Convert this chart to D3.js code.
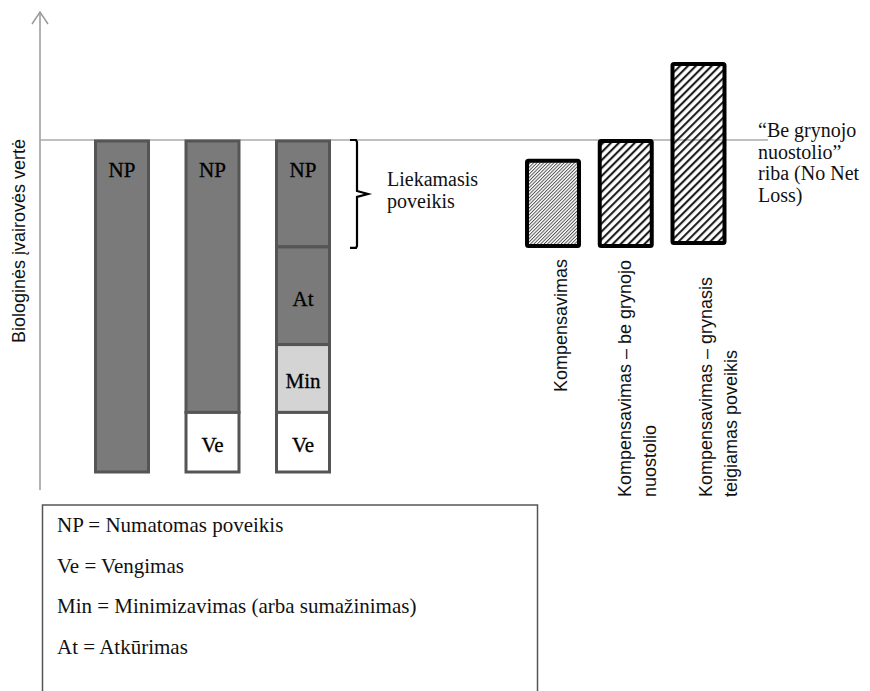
<!DOCTYPE html>
<html>
<head>
<meta charset="utf-8">
<script src="https://cdn.jsdelivr.net/npm/d3@7"></script>
<style>
  body { margin: 0; background: #fff; }
  .serif { font-family: "Liberation Serif", "Times New Roman", serif; }
  .sans { font-family: "Liberation Sans", Arial, sans-serif; }
</style>
</head>
<body>
<div id="chart"></div>
<script>
// stacked impact bars (values below the no-net-loss line, measured from the top down)
const impactBars = ['A', 'B', 'C'];
const segNames = ['NP', 'At', 'Min', 'Ve'];
const npValues = [100, 82, 32];
const atValues = [0, 0, 29.5];
const minValues = [0, 0, 20.5];
const veValues = [0, 18, 18];

// compensation bars
const compBars = ['Kompensavimas', 'Kompensavimas – be grynojo nuostolio', 'Kompensavimas – grynasis teigiamas poveikis'];
const compTop = [-6, 0, 23.3];
const compBottom = [-31.7, -31.7, -30.8];
const compLabels = [['Kompensavimas'], ['Kompensavimas – be grynojo', 'nuostolio'], ['Kompensavimas – grynasis', 'teigiamas poveikis']];

const legendLines = ['NP = Numatomas poveikis', 'Ve = Vengimas', 'Min = Minimizavimas (arba sumažinimas)', 'At = Atkūrimas'];
const yLabel = 'Biologinės įvairovės vertė';
const residualLabel = ['Liekamasis', 'poveikis'];
const nnlLabel = ['“Be grynojo', 'nuostolio”', 'riba (No Net', 'Loss)'];

var width = 870, height = 691;

var svg = d3.select('#chart').append('svg')
  .attr('width', width)
  .attr('height', height);

var defs = svg.append('defs');
defs.append('pattern')
  .attr('id', 'hatchFine')
  .attr('width', 2.4).attr('height', 10)
  .attr('patternUnits', 'userSpaceOnUse')
  .attr('patternTransform', 'rotate(45)')
  .append('line')
  .attr('x1', 0.5).attr('y1', 0).attr('x2', 0.5).attr('y2', 10)
  .attr('stroke', '#444').attr('stroke-width', 0.9);
defs.append('pattern')
  .attr('id', 'hatchBold')
  .attr('width', 5.6).attr('height', 10)
  .attr('patternUnits', 'userSpaceOnUse')
  .attr('patternTransform', 'rotate(45)')
  .append('line')
  .attr('x1', 1.1).attr('y1', 0).attr('x2', 1.1).attr('y2', 10)
  .attr('stroke', '#111').attr('stroke-width', 2);

var y = d3.scaleLinear()
  .domain([-100, 0])
  .range([472, 141]);

var xLeft = d3.scaleBand()
  .domain(impactBars)
  .range([95.5, 329.5])
  .paddingInner(0.4144)
  .paddingOuter(0);

var xRight = d3.scaleBand()
  .domain(compBars)
  .range([527, 724.5])
  .paddingInner(0.2852)
  .paddingOuter(0);

// y axis with arrow
svg.append('line')
  .attr('x1', 40).attr('x2', 40)
  .attr('y1', 12).attr('y2', 490)
  .attr('stroke', '#999').attr('stroke-width', 1.5);
svg.append('path')
  .attr('d', 'M32,24 L40,12 L48,24')
  .attr('fill', 'none')
  .attr('stroke', '#999').attr('stroke-width', 1.5);

// no net loss line
svg.append('line')
  .attr('x1', 40).attr('x2', 768)
  .attr('y1', y(0) - 1).attr('y2', y(0) - 1)
  .attr('stroke', '#aaa').attr('stroke-width', 1.3);

svg.append('text')
  .attr('class', 'sans')
  .attr('transform', 'translate(25,241) rotate(-90)')
  .attr('text-anchor', 'middle')
  .style('font-size', '18px')
  .attr('fill', '#111')
  .text(yLabel);

// build stacked segments
var segData = [];
impactBars.forEach(function (b, i) {
  var vals = [npValues[i], atValues[i], minValues[i], veValues[i]];
  var acc = 0;
  segNames.forEach(function (s, j) {
    if (vals[j] > 0) {
      segData.push({ bar: b, seg: s, from: -acc, to: -(acc + vals[j]) });
      acc += vals[j];
    }
  });
});

var segFill = { NP: '#7a7a7a', At: '#7a7a7a', Min: '#d4d4d4', Ve: '#ffffff' };

svg.selectAll('.seg')
  .data(segData)
  .enter().append('rect')
  .attr('class', 'seg')
  .attr('x', function (d) { return xLeft(d.bar); })
  .attr('width', xLeft.bandwidth())
  .attr('y', function (d) { return y(d.from); })
  .attr('height', function (d) { return y(d.to) - y(d.from); })
  .attr('fill', function (d) { return segFill[d.seg]; })
  .attr('stroke', '#555')
  .attr('stroke-width', 3);

svg.selectAll('.segLabel')
  .data(segData)
  .enter().append('text')
  .attr('class', 'serif')
  .attr('x', function (d) { return xLeft(d.bar) + xLeft.bandwidth() / 2; })
  .attr('y', function (d) {
    if (d.seg === 'NP') return y(d.from) + 36;
    return (y(d.from) + y(d.to)) / 2 + 10;
  })
  .attr('text-anchor', 'middle')
  .style('font-size', '21px')
  .attr('fill', '#000')
  .style('stroke', '#000').style('stroke-width', 0.3)
  .text(function (d) { return d.seg; });

// residual impact bracket
var bTop = y(0) - 1, bBot = y(-32) + 1, bMid = (bTop + bBot) / 2;
svg.append('path')
  .attr('d', 'M350,' + bTop + ' L356,' + bTop + ' L357,' + (bTop + 2) + ' L357,' + (bMid - 3) +
    ' L368,' + bMid + ' L357,' + (bMid + 3) + ' L357,' + (bBot - 2) + ' L356,' + bBot + ' L350,' + bBot)
  .attr('fill', 'none')
  .attr('stroke', '#000').attr('stroke-width', 2.2);

svg.append('g').selectAll('text')
  .data(residualLabel)
  .enter().append('text')
  .attr('class', 'serif')
  .attr('x', 387)
  .attr('y', function (d, i) { return 186 + i * 22; })
  .style('font-size', '20px')
  .attr('fill', '#111')
  .text(function (d) { return d; });

// compensation bars
svg.selectAll('.comp')
  .data(compBars)
  .enter().append('rect')
  .attr('class', 'comp')
  .attr('x', function (d) { return xRight(d); })
  .attr('width', xRight.bandwidth())
  .attr('y', function (d, i) { return y(compTop[i]); })
  .attr('height', function (d, i) { return y(compBottom[i]) - y(compTop[i]); })
  .attr('rx', 1.5)
  .attr('fill', function (d, i) { return i === 0 ? 'url(#hatchFine)' : 'url(#hatchBold)'; })
  .attr('stroke', '#000')
  .attr('stroke-width', 4);

// rotated compensation labels
var labelDx = [14, 5, 13.5];
var labelAnchor = ['end', 'start', 'start'];
var labelY = [259, 497, 497];
compBars.forEach(function (c, i) {
  var cx = xRight(c) + xRight.bandwidth() / 2 + labelDx[i];
  var g = svg.append('g');
  g.selectAll('text')
    .data(compLabels[i])
    .enter().append('text')
    .attr('class', 'sans')
    .attr('transform', function (d, j) { return 'translate(' + (cx + j * 25) + ',' + labelY[i] + ') rotate(-90)'; })
    .attr('text-anchor', labelAnchor[i])
    .style('font-size', '18px')
    .attr('fill', '#111')
    .text(function (d) { return d; });
});

// no net loss label
svg.append('g').selectAll('text')
  .data(nnlLabel)
  .enter().append('text')
  .attr('class', 'serif')
  .attr('x', 758)
  .attr('y', function (d, i) { return 137 + i * 21.5; })
  .style('font-size', '20px')
  .attr('fill', '#111')
  .text(function (d) { return d; });

// legend box
svg.append('rect')
  .attr('x', 42.5).attr('y', 505)
  .attr('width', 495).attr('height', 200)
  .attr('fill', 'none')
  .attr('stroke', '#555').attr('stroke-width', 1.5);

svg.append('g').selectAll('text')
  .data(legendLines)
  .enter().append('text')
  .attr('class', 'serif')
  .attr('x', 57)
  .attr('y', function (d, i) { return 532 + i * 40.7; })
  .style('font-size', '21px')
  .attr('fill', '#111')
  .text(function (d) { return d; });
</script>
</body>
</html>
